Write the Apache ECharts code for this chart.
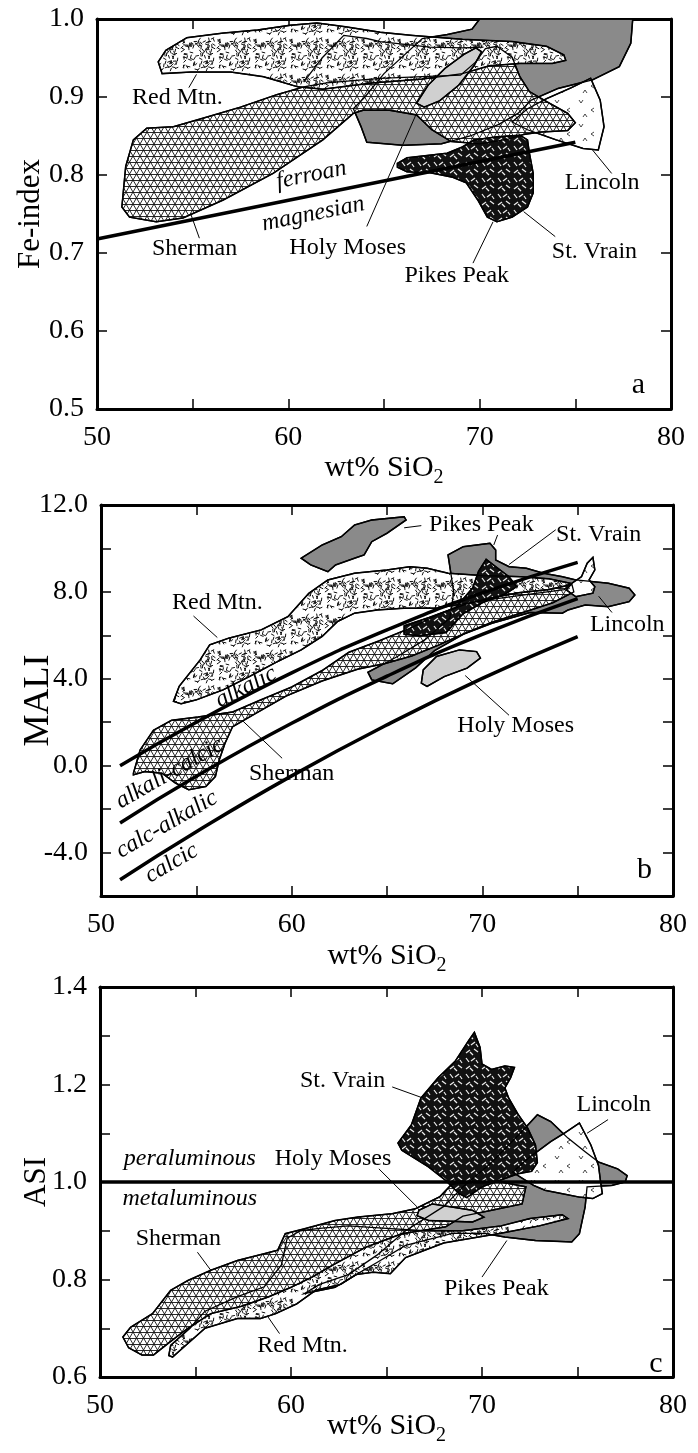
<!DOCTYPE html>
<html>
<head>
<meta charset="utf-8">
<script src="https://cdn.jsdelivr.net/npm/echarts@6/dist/echarts.min.js"></script>
<style>
  html, body { margin: 0; padding: 0; background: #fff; }
  #chart { width: 698px; height: 1453px; }
</style>
</head>
<body>
<div id="chart"></div>
<script>
const FONT = '"Liberation Serif", "Times New Roman", serif';

// ---------- panel a : Fe-index vs SiO2 ----------
const pikesA = [[63.4,0.885],[63.8,0.862],[64.1,0.842],[66.0,0.838],[68.0,0.840],[69.5,0.850],[71.0,0.865],[72.0,0.879],[72.7,0.896],[74.1,0.911],[75.9,0.922],[77.3,0.939],[77.9,0.969],[78.0,1.0],[70.0,1.0],[69.6,0.987],[68.3,0.980],[67.0,0.975],[65.0,0.930],[64.0,0.900]];
const lincolnA = [[75.8,0.924],[76.3,0.896],[76.5,0.862],[76.2,0.832],[75.4,0.834],[74.0,0.845],[72.5,0.858],[71.7,0.868],[72.5,0.885],[73.5,0.898],[74.8,0.912]];
const shermanA = [[51.3,0.759],[51.5,0.811],[51.9,0.845],[52.6,0.860],[54.0,0.862],[55.7,0.874],[57.5,0.887],[59.4,0.903],[60.8,0.913],[62.0,0.918],[64.8,0.924],[67.0,0.926],[69.0,0.928],[69.8,0.945],[70.3,0.962],[70.9,0.965],[71.7,0.951],[72.1,0.926],[72.6,0.907],[73.5,0.894],[74.6,0.879],[75.0,0.867],[74.6,0.857],[73.2,0.855],[72.3,0.852],[71.5,0.846],[70.0,0.840],[68.5,0.843],[67.5,0.858],[66.7,0.877],[65.3,0.883],[63.9,0.883],[63.4,0.879],[61.8,0.845],[59.2,0.802],[56.6,0.768],[54.5,0.745],[53.1,0.740],[51.7,0.746]];
const shermanBoxA = [[60.8,0.919],[61.8,0.951],[62.9,0.979],[64.1,0.975],[64.8,0.971],[67.4,0.964],[69.1,0.963],[70.2,0.964]];
const redMtnA = [[53.4,0.930],[53.2,0.945],[53.6,0.960],[54.7,0.976],[56.6,0.982],[58.4,0.986],[60.1,0.992],[61.5,0.995],[63.0,0.990],[64.8,0.983],[66.5,0.979],[69.1,0.974],[71.7,0.971],[73.5,0.965],[74.4,0.954],[74.5,0.947],[73.8,0.943],[72.1,0.943],[70.5,0.940],[69.1,0.930],[67.0,0.923],[64.4,0.918],[61.8,0.910],[60.5,0.913],[58.7,0.926],[57.0,0.932],[54.9,0.932]];
const holyMosesA = [[66.7,0.892],[67.3,0.915],[68.2,0.937],[69.2,0.955],[69.8,0.963],[70.1,0.958],[69.7,0.940],[68.9,0.915],[67.9,0.895],[67.1,0.887]];
const stVrainA = [[65.7,0.815],[66.2,0.822],[68.3,0.828],[69.1,0.836],[69.7,0.845],[70.9,0.849],[72.1,0.851],[72.5,0.845],[72.6,0.828],[72.8,0.802],[72.8,0.777],[72.5,0.759],[71.7,0.746],[70.9,0.740],[70.4,0.746],[69.9,0.768],[69.3,0.790],[68.6,0.797],[67.4,0.803],[66.2,0.804],[65.7,0.810]];
const feLineA = [[50, 0.718], [75, 0.842]];
const labelsA = [[54.2,0.899,'Red Mtn.'],[55.1,0.705,'Sherman'],[63.1,0.707,'Holy Moses'],[68.8,0.671,'Pikes Peak'],[76.0,0.702,'St. Vrain'],[76.4,0.790,'Lincoln']];
const fieldNamesA = [[61.2,0.800,'ferroan',11.5],[61.3,0.750,'magnesian',11.5]];
const leadersA = [[54.8,0.912,55.2,0.929],[55.35,0.719,54.9,0.750],[64.1,0.734,66.7,0.879],[69.65,0.687,70.7,0.740],[73.95,0.721,72.3,0.753],[76.9,0.802,75.9,0.832]];

// ---------- panel b : MALI vs SiO2 ----------
const pikesB1 = [[60.5,9.55],[61.6,10.16],[62.6,10.54],[63.3,11.08],[64.2,11.31],[65.9,11.46],[66.0,11.31],[65.0,10.70],[64.2,10.31],[63.8,9.70],[63.3,9.55],[62.3,9.24],[61.9,8.93],[61.0,9.24]];
const pikesB2 = [[64.0,4.3],[65.5,5.0],[67.0,5.8],[68.3,6.8],[68.5,8.0],[68.2,9.70],[69.0,10.08],[70.4,10.24],[70.7,9.93],[70.7,9.47],[71.4,9.16],[72.3,9.09],[73.2,8.86],[74.2,8.70],[74.9,8.55],[76.6,8.40],[77.7,8.17],[78.0,7.86],[77.7,7.55],[76.6,7.32],[75.4,7.40],[74.5,7.17],[74.2,7.02],[72.5,7.05],[70.5,6.55],[69.0,6.05],[67.5,5.30],[66.5,4.50],[65.3,3.77],[64.2,3.95]];
const redMtnB = [[53.8,2.96],[54.1,3.65],[55.2,4.87],[55.7,5.56],[56.7,5.87],[58.4,6.25],[59.8,6.86],[60.9,7.94],[61.9,8.55],[63.3,8.86],[65.0,9.01],[66.2,9.16],[67.1,9.09],[68.2,8.86],[70.0,8.75],[72.0,8.70],[73.5,8.60],[74.6,8.40],[74.3,8.10],[72.5,7.90],[70.0,7.60],[67.6,7.25],[65.9,7.25],[64.5,7.17],[63.3,7.02],[62.4,6.63],[61.6,5.95],[60.5,5.33],[59.1,4.72],[57.8,4.11],[56.4,3.49],[55.0,3.03],[54.2,2.85]];
const shermanB = [[51.7,-0.35],[52.05,0.72],[52.75,1.63],[53.7,2.09],[55.1,2.24],[56.9,2.47],[58.3,3.0],[60.0,3.62],[61.6,4.38],[63.0,5.22],[64.6,5.75],[66.3,6.36],[67.7,6.97],[69.1,7.43],[70.5,7.73],[71.9,7.96],[73.5,8.11],[74.7,8.34],[74.8,8.0],[73.7,7.50],[72.3,7.10],[70.5,6.60],[69.1,6.10],[67.7,5.55],[66.3,5.05],[64.9,4.70],[63.5,4.45],[61.6,3.90],[59.7,3.20],[58.1,2.40],[56.9,1.79],[56.5,1.02],[56.2,0.26],[56.0,-0.5],[55.5,-0.96],[54.6,-1.11],[53.9,-0.8],[53.2,-0.35],[52.3,-0.27],[51.7,-0.42]];
const holyMosesB = [[66.8,3.80],[66.9,4.41],[67.6,5.03],[68.8,5.33],[69.7,5.25],[69.9,4.95],[69.2,4.49],[68.0,4.10],[67.1,3.65]];
const lincolnB = [[75.8,9.59],[75.9,9.01],[75.6,8.55],[75.9,8.24],[75.8,7.94],[74.9,7.78],[74.4,8.09],[74.7,8.40],[75.2,8.70],[75.5,9.32]];
const stVrainB = [[70.2,9.50],[70.7,9.16],[71.4,8.70],[71.8,8.24],[71.2,7.90],[70.0,7.50],[69.0,7.00],[68.1,6.13],[66.7,5.98],[65.9,6.05],[65.9,6.44],[67.2,6.82],[68.6,7.27],[69.5,8.19],[69.8,8.95]];
const maliSiO2 = [51, 55, 60, 65, 70, 75];
const alkalicLine = [0.0, 2.0, 4.27, 6.25, 7.95, 9.36];
const alkCalcicLine = [-2.64, -0.49, 1.95, 4.12, 6.04, 7.69];
const calcicLine = [-5.25, -3.04, -0.47, 1.88, 4.02, 5.94];
const labelsB = [[69.95,11.09,'Pikes Peak'],[76.1,10.63,'St. Vrain'],[56.1,7.5,'Red Mtn.'],[77.6,6.51,'Lincoln'],[71.75,1.83,'Holy Moses'],[60.0,-0.35,'Sherman']];
const fieldNamesB = [[57.6,3.62,'alkalic',27],[53.6,-0.35,'alkali-calcic',30],[53.45,-2.71,'calc-alkalic',30],[53.7,-4.49,'calcic',30]];
const leadersB = [[66.8,11.05,65.9,10.95],[70.8,10.62,70.6,10.16],[73.85,10.86,71.4,9.26],[54.85,6.89,56.1,5.9],[76.8,7.05,76.1,7.8],[71.4,2.32,69.1,4.15],[59.5,0.34,57.4,2.09]];

// ---------- panel c : ASI vs SiO2 ----------
const pikesC = [[72.9,1.138],[73.6,1.124],[74.5,1.090],[75.4,1.062],[76.1,1.041],[77.1,1.027],[77.6,1.013],[77.5,1.0],[76.8,0.993],[75.5,0.990],[75.4,0.949],[75.1,0.894],[74.7,0.877],[72.8,0.880],[71.2,0.887],[70.2,0.894],[68.5,0.895],[66.0,0.870],[64.5,0.835],[63.5,0.812],[62.3,0.784],[60.7,0.771],[61.5,0.790],[63.0,0.810],[64.5,0.850],[66.0,0.900],[68.0,0.950],[69.0,0.990],[70.5,1.040],[72.0,1.100]];
const redMtnC = [[53.6,0.644],[53.7,0.665],[54.7,0.700],[55.5,0.735],[57.2,0.765],[58.6,0.785],[59.5,0.830],[59.8,0.885],[60.5,0.900],[61.5,0.905],[63.0,0.910],[65.0,0.905],[67.0,0.900],[69.0,0.900],[71.0,0.910],[72.5,0.925],[74.2,0.933],[74.5,0.925],[73.0,0.910],[71.0,0.895],[69.5,0.885],[68.0,0.875],[66.0,0.845],[65.2,0.812],[64.3,0.815],[63.4,0.810],[62.6,0.790],[61.3,0.778],[60.3,0.750],[59.2,0.730],[58.4,0.720],[57.2,0.720],[55.5,0.700],[54.2,0.655],[53.8,0.641]];
const shermanC = [[51.2,0.682],[51.6,0.702],[52.75,0.730],[53.7,0.778],[54.6,0.798],[55.8,0.819],[57.2,0.839],[58.6,0.853],[59.3,0.860],[59.7,0.894],[60.7,0.904],[62.3,0.921],[63.5,0.928],[65.3,0.935],[66.5,0.945],[67.8,0.970],[68.4,0.995],[69.5,1.0],[71.0,1.0],[72.3,0.990],[72.1,0.955],[70.5,0.942],[69.0,0.930],[68.1,0.908],[65.8,0.894],[63.9,0.866],[62.3,0.832],[61.1,0.805],[60.0,0.784],[58.8,0.764],[57.4,0.745],[55.8,0.730],[54.6,0.700],[53.6,0.670],[52.8,0.645],[52.2,0.645],[51.5,0.660]];
const holyMosesC = [[66.7,0.942],[67.4,0.955],[69.5,0.942],[70.1,0.928],[69.5,0.918],[67.2,0.921],[66.6,0.931]];
const lincolnC = [[75.1,1.121],[75.7,1.076],[76.1,1.034],[76.2,1.003],[76.3,0.976],[75.8,0.966],[75.1,0.969],[74.2,0.976],[73.3,0.983],[72.7,0.993],[71.6,1.020],[72.4,1.048],[73.6,1.083],[74.3,1.100]];
const stVrainC = [[69.6,1.307],[69.9,1.276],[70.0,1.242],[70.5,1.231],[71.2,1.238],[71.7,1.235],[71.5,1.214],[71.2,1.193],[71.4,1.172],[71.9,1.138],[72.4,1.110],[72.8,1.076],[72.9,1.040],[72.6,1.022],[71.9,1.017],[70.9,1.003],[70.0,0.990],[69.5,0.976],[69.2,0.968],[68.8,0.976],[68.1,1.003],[67.2,1.031],[65.8,1.065],[65.6,1.080],[66.3,1.117],[66.8,1.172],[67.7,1.214],[68.6,1.248],[69.3,1.290]];
const asiLine = [[50, 1.0], [80, 1.0]];
const labelsC = [[62.7,1.208,'St. Vrain'],[76.9,1.159,'Lincoln'],[62.2,1.048,'Holy Moses'],[54.1,0.884,'Sherman'],[70.75,0.781,'Pikes Peak'],[60.6,0.665,'Red Mtn.']];
const fieldNamesC = [[54.7,1.048,'peraluminous',0],[54.7,0.966,'metaluminous',0]];
const leadersC = [[65.3,1.195,67.0,1.171],[76.6,1.128,75.5,1.100],[64.6,1.027,66.6,0.949],[55.1,0.856,55.8,0.819],[70.0,0.805,71.3,0.880],[59.4,0.689,58.8,0.723]];

const panelLetters = [[78.3,0.530,'a'],[78.5,-4.8,'b'],[79.1,0.627,'c']];

// ---------- fill textures ----------
function makeTile(w, h, draw) {
  const c = document.createElement('canvas');
  c.width = w; c.height = h;
  draw(c.getContext('2d'), w, h);
  return { image: c, repeat: 'repeat' };
}
function seq(seed) {
  let s = seed;
  return () => { s = (s * 1103515245 + 12345) % 2147483648; return s / 2147483648; };
}
const dashFill = makeTile(36, 36, (g, w, h) => {
  g.fillStyle = '#fff'; g.fillRect(0, 0, w, h);
  g.strokeStyle = '#111'; g.lineWidth = 1;
  const r = seq(7);
  for (let i = 0; i < 95; i++) {
    const x = 2 + r() * (w - 4), y = 2 + r() * (h - 4), a = r() * Math.PI;
    const dx = Math.cos(a) * 1.8, dy = Math.sin(a) * 1.8;
    g.beginPath(); g.moveTo(x - dx, y - dy); g.lineTo(x + dx, y + dy); g.stroke();
  }
});
const crossFill = makeTile(14, 24, (g, w, h) => {
  g.fillStyle = '#fff'; g.fillRect(0, 0, w, h);
  g.strokeStyle = '#111'; g.lineWidth = 0.9;
  for (let y = 0; y <= h; y += 6) { g.beginPath(); g.moveTo(0, y + 0.5); g.lineTo(w, y + 0.5); g.stroke(); }
  for (let k = -3; k <= 5; k++) {
    g.beginPath(); g.moveTo(k * 7, 0); g.lineTo(k * 7 + 14, 24); g.stroke();
    g.beginPath(); g.moveTo(k * 7, 0); g.lineTo(k * 7 - 14, 24); g.stroke();
  }
});
const vrainFill = makeTile(16, 16, (g, w, h) => {
  g.fillStyle = '#111'; g.fillRect(0, 0, w, h);
  g.strokeStyle = '#eee'; g.lineWidth = 1.2;
  [[2,2,5,6],[7,5,11,2],[10,9,14,12],[2,13,6,10],[6,12,9,15],[12,4,14,7]].forEach(s => {
    g.beginPath(); g.moveTo(s[0], s[1]); g.lineTo(s[2], s[3]); g.stroke();
  });
});
const lincolnFill = makeTile(24, 24, (g, w, h) => {
  g.fillStyle = '#fff'; g.fillRect(0, 0, w, h);
  g.strokeStyle = '#333'; g.lineWidth = 0.9;
  [[[3,4],[5,7],[7,4]], [[18,12],[15,14],[18,16]], [[7,21],[9,18],[11,21]]].forEach(p => {
    g.beginPath(); g.moveTo(p[0][0], p[0][1]); g.lineTo(p[1][0], p[1][1]); g.lineTo(p[2][0], p[2][1]); g.stroke();
  });
});
const PIKES = '#8a8a8a';
const HOLY = '#d0d0d0';

// ---------- series helpers ----------
const series = [];
function polygon(pts, fill, gi, z) {
  series.push({
    type: 'custom', xAxisIndex: gi * 2, yAxisIndex: gi * 2, z: z, silent: true, data: pts,
    renderItem: (params, api) => {
      if (params.dataIndex !== 0) return null;
      return {
        type: fill ? 'polygon' : 'polyline',
        shape: { points: pts.map(p => api.coord(p)) },
        style: { fill: fill || 'none', stroke: '#000', lineWidth: fill ? 1.5 : 1.3 }
      };
    }
  });
}
function fields(list, gi) {
  list.forEach(f => polygon(f[0], f[1], gi, 2));
  list.forEach(f => series.push({
    type: 'custom', xAxisIndex: gi * 2, yAxisIndex: gi * 2, z: 3, silent: true, data: f[0],
    renderItem: (params, api) => {
      if (params.dataIndex !== 0) return null;
      return { type: 'polygon', shape: { points: f[0].map(p => api.coord(p)) },
        style: { fill: 'none', stroke: '#000', lineWidth: 1.3 } };
    }
  }));
}
function boundary(pts, gi, smooth) {
  series.push({
    type: 'line', xAxisIndex: gi * 2, yAxisIndex: gi * 2, data: pts, symbol: 'none', smooth: smooth,
    lineStyle: { color: '#000', width: 3.5 }, z: 4, silent: true
  });
}
function leaders(items, gi) {
  series.push({
    type: 'custom', xAxisIndex: gi * 2, yAxisIndex: gi * 2, z: 5, silent: true, data: items,
    renderItem: (params, api) => {
      const d = items[params.dataIndex];
      const a = api.coord([d[0], d[1]]), b = api.coord([d[2], d[3]]);
      return { type: 'line', shape: { x1: a[0], y1: a[1], x2: b[0], y2: b[1] },
        style: { stroke: '#000', lineWidth: 1 } };
    }
  });
}
function texts(items, gi, italic, size) {
  series.push({
    type: 'custom', xAxisIndex: gi * 2, yAxisIndex: gi * 2, z: 6, silent: true,
    data: items.map(d => [d[0], d[1]]),
    renderItem: (params, api) => {
      const d = items[params.dataIndex];
      const c = api.coord([d[0], d[1]]);
      return {
        type: 'text', x: c[0], y: c[1], rotation: (d[3] || 0) * Math.PI / 180,
        style: { text: d[2], fill: '#000', font: (italic ? 'italic ' : '') + size + 'px ' + FONT,
          align: 'center', verticalAlign: 'middle', textAlign: 'center', textVerticalAlign: 'middle' }
      };
    }
  });
}

// panel a
fields([[pikesA, PIKES], [lincolnA, lincolnFill], [shermanA, crossFill], [redMtnA, dashFill], [holyMosesA, HOLY], [stVrainA, vrainFill]], 0);
polygon(shermanBoxA, null, 0, 3);
boundary(feLineA, 0, false);
leaders(leadersA, 0);
texts(labelsA, 0, false, 24);
texts(fieldNamesA, 0, true, 24);
texts([panelLetters[0]], 0, false, 30);

// panel b
fields([[pikesB1, PIKES], [pikesB2, PIKES], [redMtnB, dashFill], [shermanB, crossFill], [holyMosesB, HOLY], [lincolnB, lincolnFill], [stVrainB, vrainFill]], 1);
boundary(maliSiO2.map((x, i) => [x, alkalicLine[i]]), 1, true);
boundary(maliSiO2.map((x, i) => [x, alkCalcicLine[i]]), 1, true);
boundary(maliSiO2.map((x, i) => [x, calcicLine[i]]), 1, true);
leaders(leadersB, 1);
texts(labelsB, 1, false, 24);
texts(fieldNamesB, 1, true, 24);
texts([panelLetters[1]], 1, false, 30);

// panel c
fields([[pikesC, PIKES], [redMtnC, dashFill], [shermanC, crossFill], [holyMosesC, HOLY], [lincolnC, lincolnFill], [stVrainC, vrainFill]], 2);
boundary(asiLine, 2, false);
leaders(leadersC, 2);
texts(labelsC, 2, false, 24);
texts(fieldNamesC, 2, true, 24);
texts([panelLetters[2]], 2, false, 30);

// ---------- axes ----------
const lineSty = { onZero: false, lineStyle: { color: '#000', width: 3 } };
const tickSty = { inside: true, length: 10, lineStyle: { color: '#000', width: 1.5 } };
const grids = [
  { left: 97, top: 19, width: 574, height: 390, outerBoundsMode: 'none' },
  { left: 101, top: 505, width: 572, height: 391, outerBoundsMode: 'none' },
  { left: 100, top: 987, width: 573, height: 390, outerBoundsMode: 'none' }
];
const xNameGaps = [39, 40, 29];
const yDefs = [
  { min: 0.5, max: 1.0, interval: 0.1, name: 'Fe-index', gap: 51, size: 31, fmt: v => v.toFixed(1) },
  { min: -6, max: 12, interval: 2, name: 'MALI', gap: 44, size: 36, fmt: v => (Math.round(v) % 4 === 0 ? v.toFixed(1) : '') },
  { min: 0.6, max: 1.4, interval: 0.1, name: 'ASI', gap: 48, size: 31, fmt: v => (Math.round(v * 10) % 2 === 0 ? v.toFixed(1) : '') }
];
const xAxis = [], yAxis = [];
grids.forEach((g, i) => {
  xAxis.push({
    gridIndex: i, type: 'value', min: 50, max: 80, interval: 5, position: 'bottom',
    axisLine: lineSty, axisTick: tickSty, splitLine: { show: false },
    axisLabel: { formatter: v => (v % 10 === 0 ? String(v) : ''), color: '#000', fontFamily: FONT, fontSize: 28, margin: 15, showMinLabel: true, showMaxLabel: true },
    name: '{t|wt% SiO}{s|2}', nameLocation: 'middle', nameGap: xNameGaps[i], nameMoveOverlap: false,
    nameTextStyle: { color: '#000', fontFamily: FONT, fontSize: 30, rich: {
      t: { fontFamily: FONT, fontSize: 30, color: '#000', lineHeight: 40, verticalAlign: 'middle' },
      s: { fontFamily: FONT, fontSize: 20, color: '#000', lineHeight: 40, verticalAlign: 'bottom' }
    } }
  });
  xAxis.push({
    gridIndex: i, type: 'value', min: 50, max: 80, interval: 5, position: 'top',
    axisLine: lineSty, axisTick: tickSty, splitLine: { show: false }, axisLabel: { show: false }
  });
  const y = yDefs[i];
  yAxis.push({
    gridIndex: i, type: 'value', min: y.min, max: y.max, interval: y.interval, position: 'left',
    axisLine: lineSty, axisTick: tickSty, splitLine: { show: false },
    axisLabel: { formatter: y.fmt, color: '#000', fontFamily: FONT, fontSize: 28, margin: 13, showMinLabel: true, showMaxLabel: true },
    name: y.name, nameLocation: 'middle', nameGap: y.gap, nameMoveOverlap: false,
    nameTextStyle: { color: '#000', fontFamily: FONT, fontSize: y.size }
  });
  yAxis.push({
    gridIndex: i, type: 'value', min: y.min, max: y.max, interval: y.interval, position: 'right',
    axisLine: lineSty, axisTick: tickSty, splitLine: { show: false }, axisLabel: { show: false }
  });
});

const chart = echarts.init(document.getElementById('chart'), null, { renderer: 'canvas' });
chart.setOption({
  animation: false,
  backgroundColor: '#fff',
  grid: grids,
  xAxis: xAxis,
  yAxis: yAxis,
  series: series
});
</script>
</body>
</html>
